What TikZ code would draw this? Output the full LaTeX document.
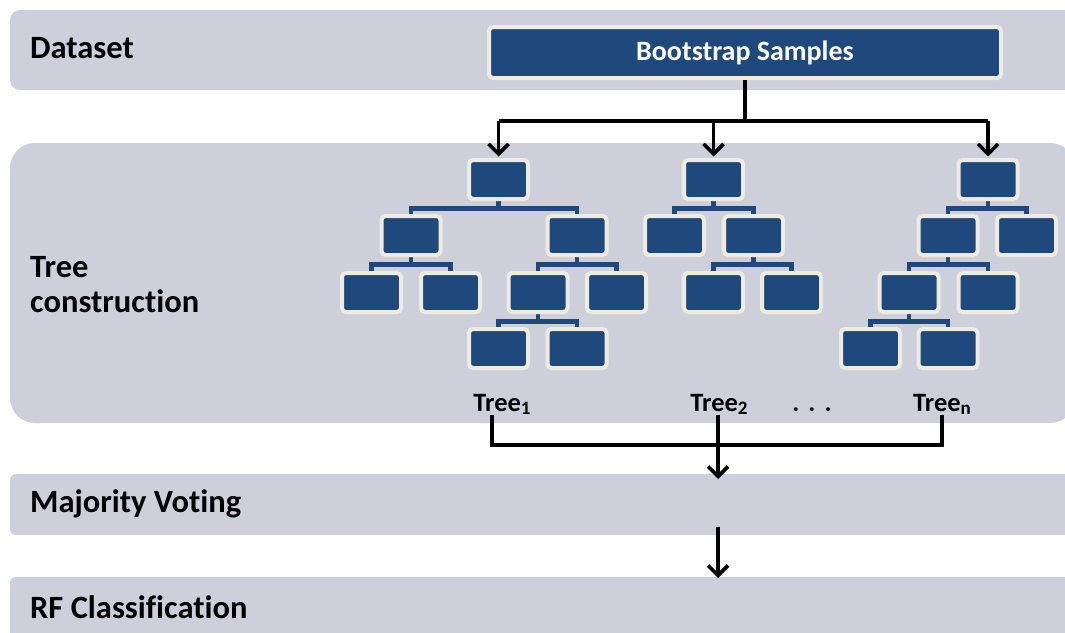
\documentclass[tikz,border=0pt]{standalone}
\usepackage{fontspec}
\setmainfont{Carlito}[Ligatures=NoCommon]
\usetikzlibrary{arrows.meta}
\definecolor{bandgray}{HTML}{CDD0DA}
\definecolor{navy}{HTML}{1F497D}
\definecolor{cream}{HTML}{EEECE1}
\pgfdeclarelayer{bands}
\pgfdeclarelayer{links}
\pgfsetlayers{bands,links,main}
\newcommand{\tsub}[1]{\raisebox{-0.3ex}{\fontsize{19}{20}\selectfont #1}}

\begin{document}
\begin{tikzpicture}[x=1pt,y=-1pt,
  leaf/.style={rectangle, fill=navy, draw=cream, line width=4pt,
    rounded corners=4pt, minimum width=59pt, minimum height=39pt, inner sep=0pt},
  link/.style={draw=navy, line width=4.5pt},
  flow/.style={draw=black, line width=3.6pt},
  tip/.style={-{Straight Barb[length=10pt,width=20pt]}},
  phase/.style={font=\fontsize{32.5}{35}\selectfont\bfseries, anchor=west,
    inner sep=0pt, text=black, align=left},
  treelbl/.style={font=\fontsize{26.5}{28}\selectfont\bfseries, anchor=base,
    inner sep=0pt, text=black},
]
\useasboundingbox (0,0) rectangle (1065,632);
\clip (0,0) rectangle (1065,632);

% phase bands
\begin{pgfonlayer}{bands}
  \fill[bandgray, rounded corners=10pt] (10,10) rectangle (1100,90);
  \fill[bandgray, rounded corners=25pt] (10,143) rectangle (1075,423);
  \fill[bandgray, rounded corners=6pt] (10,474) rectangle (1100,535);
  \fill[bandgray, rounded corners=6pt] (10,577) rectangle (1100,660);
\end{pgfonlayer}

% phase labels
\node[phase] (lds) at (30,48) {Dataset};
\node[phase] (ltc) at (30,285) {Tree\\[0pt]construction};
\node[phase] (lmv) at (30,504) {Majority Voting};
\node[phase] (lrf) at (30,607) {RF Classification};

% bootstrap box
\node[leaf, minimum width=512pt, minimum height=51pt, text=white,
  font=\fontsize{28}{30}\selectfont\bfseries] (boot) at (745,52.5) {Bootstrap Samples};

% tree 1
\node[leaf] (ar)   at (498.5,179.5) {};
\node[leaf] (aa)   at (411,235.5) {};
\node[leaf] (ab)   at (577,235.5) {};
\node[leaf] (aaa)  at (371.5,292.5) {};
\node[leaf] (aab)  at (450.5,292.5) {};
\node[leaf] (aba)  at (538,292.5) {};
\node[leaf] (abb)  at (616.5,292.5) {};
\node[leaf] (abaa) at (498.5,348.5) {};
\node[leaf] (abab) at (577,348.5) {};

% tree 2
\node[leaf] (br)  at (713.5,179.5) {};
\node[leaf] (ba)  at (674.5,235.5) {};
\node[leaf] (bb)  at (753.5,235.5) {};
\node[leaf] (bba) at (713.5,292.5) {};
\node[leaf] (bbb) at (791.5,292.5) {};

% tree n
\node[leaf] (cr)   at (988,179.5) {};
\node[leaf] (ca)   at (948,235.5) {};
\node[leaf] (cb)   at (1026.5,235.5) {};
\node[leaf] (caa)  at (909,292.5) {};
\node[leaf] (cab)  at (988,292.5) {};
\node[leaf] (caaa) at (870.5,348.5) {};
\node[leaf] (caab) at (948,348.5) {};

% branch links
\begin{pgfonlayer}{links}
  \foreach \p/\l/\r in {ar/aa/ab, aa/aaa/aab, ab/aba/abb, aba/abaa/abab,
                        br/ba/bb, bb/bba/bbb,
                        cr/ca/cb, ca/caa/cab, caa/caaa/caab}{
    \draw[link] (\p.south) -- ++(0,7.5) coordinate (bar)
      (\l.north) |- (bar) -| (\r.north);
  }
\end{pgfonlayer}

% bootstrap split
\coordinate (split) at (745,121);
\draw[flow] (boot.south) -- (split);
\draw[flow] (split -| ar) -- (split -| cr);
\foreach \t in {ar,br,cr}{
  \draw[flow, tip, shorten >=1.5pt] (split -| \t) -- (\t.north);
}

% tree labels
\node[treelbl] (n1) at (502,411) {Tree\tsub{1}};
\node[treelbl] (n2) at (719,411) {Tree\tsub{2}};
\node[treelbl] (nd) at (812,411) {.\hspace{9pt}.\hspace{9pt}.};
\node[treelbl] (nn) at (942,411) {Tree\tsub{n}};

% voting merge
\coordinate (s1) at (492,415);
\coordinate (s2) at (718,415);
\coordinate (sn) at (942,415);
\coordinate (m1) at (492,445);
\coordinate (mn) at (942,445);
\coordinate (vote) at (718,479);
\coordinate (vout) at (718,527);
\coordinate (cls) at (718,578);
\draw[flow, line join=miter] (s1) -- (m1) -- (mn) -- (sn);
\draw[flow, tip] (s2) -- (vote);
\draw[flow, tip] (vout) -- (cls);
\end{tikzpicture}
\end{document}
